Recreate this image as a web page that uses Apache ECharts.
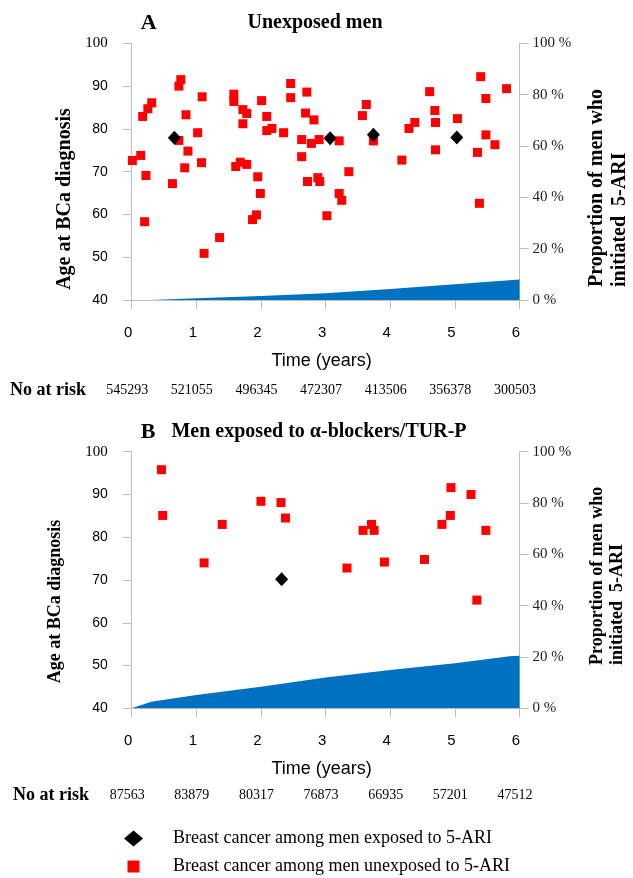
<!DOCTYPE html>
<html>
<head>
<meta charset="utf-8">
<script src="https://cdn.jsdelivr.net/npm/echarts@6/dist/echarts.min.js"></script>
<style>
  html, body { margin: 0; padding: 0; background: #fff; }
  #main { width: 633px; height: 878px; }
</style>
</head>
<body>
<div id="main"></div>
<script>
// x axis ticks and number at risk
var years = [0, 1, 2, 3, 4, 5, 6];
var riskA = ['545293', '521055', '496345', '472307', '413506', '356378', '300503'];
var riskB = ['87563', '83879', '80317', '76873', '66935', '57201', '47512'];

// A: unexposed men
var timeA_unexp = [0.01, 0.14, 0.22, 0.20, 0.17, 0.25, 0.31, 0.63, 0.73, 0.76, 0.73, 0.84, 1.02, 0.87, 0.82,
  1.09, 1.08, 1.12, 1.36, 1.58, 1.58, 1.72, 1.78, 1.72, 1.61, 1.68, 1.78, 1.95, 1.99, 1.93, 1.87,
  2.01, 2.09, 2.09, 2.17, 2.35, 2.46, 2.46, 2.71, 2.69, 2.82, 2.63, 2.78, 2.90, 2.63, 2.72, 2.88, 2.91,
  3.02, 3.21, 3.36, 3.21, 3.25, 3.63, 3.57, 3.74, 4.18, 4.29, 4.38, 4.61, 4.69, 4.70, 4.70,
  5.04, 5.40, 5.48, 5.48, 5.62, 5.35, 5.38, 5.80];
var ageA_unexp = [72.6, 73.8, 69.1, 58.3, 82.9, 84.7, 86.1, 67.2, 90.0, 91.5, 77.3, 83.3, 79.1, 74.8, 70.9,
  87.5, 72.1, 50.9, 54.6, 88.1, 86.4, 84.5, 83.6, 81.2, 71.2, 72.2, 71.7, 68.8, 64.9, 59.9, 58.8,
  86.6, 82.9, 79.6, 80.1, 79.1, 90.6, 87.3, 88.6, 83.7, 82.1, 77.5, 76.6, 77.5, 73.5, 67.7, 68.6, 67.7,
  59.7, 77.2, 70.0, 64.9, 63.3, 85.7, 83.1, 77.2, 72.7, 80.1, 81.5, 88.7, 84.3, 81.5, 75.1,
  82.4, 92.2, 87.1, 78.6, 76.3, 74.5, 62.6, 89.4];
var timeA_exp = [0.66, 3.07, 3.74, 5.03];
var ageA_exp = [77.9, 77.8, 78.6, 78.0];
var areaTimeA = [0, 0.3, 1, 2, 3, 4, 5, 6];
var areaPctA = [0, 0, 0.65, 1.55, 2.6, 4.3, 6.1, 8.0];

// B: men exposed to alpha-blockers/TUR-P
var timeB_unexp = [0.46, 0.48, 1.12, 1.40, 2.00, 2.31, 2.38, 3.33, 3.58, 3.71, 3.75, 3.91, 4.53, 4.80, 4.93, 4.94, 5.25, 5.48, 5.34];
var ageB_unexp = [95.8, 85.1, 74.0, 83.0, 88.4, 88.1, 84.5, 72.8, 81.6, 83.0, 81.6, 74.2, 74.8, 83.0, 85.1, 91.6, 90.0, 81.6, 65.3];
var timeB_exp = [2.32];
var ageB_exp = [70.2];
var areaTimeB = [0, 0.3, 1, 2, 3, 4, 5, 5.85, 6];
var areaPctB = [0, 2.6, 5.2, 8.4, 12.0, 14.9, 17.6, 20.3, 20.5];

var nameExp = 'Breast cancer among men exposed to 5-ARI';
var nameUnexp = 'Breast cancer among men unexposed to 5-ARI';

var SERIF = '"Liberation Serif", "Times New Roman", serif';
var SANS = '"Liberation Sans", Arial, sans-serif';
var GRAY = '#bfbfbf';

function pairs(xs, ys) {
  return xs.map(function (x, i) { return [x, ys[i]]; });
}

var myChart = echarts.init(document.getElementById('main'));

function xAxes(g, risk, riskMargin) {
  return [{
    gridIndex: g, type: 'value', min: 0, max: 6, interval: 1, position: 'bottom',
    axisLine: { show: true, onZero: false, lineStyle: { color: GRAY } },
    axisTick: { show: true, length: 9, lineStyle: { color: GRAY } },
    splitLine: { show: false },
    axisLabel: { margin: 25, color: '#000', fontFamily: SANS, fontSize: 15, padding: [0, 7, 0, 0] },
    name: 'Time (years)', nameLocation: 'middle', nameGap: 52,
    nameTextStyle: { fontFamily: SANS, fontSize: 18, color: '#000', padding: [0, 8, 0, 0] }
  }, {
    gridIndex: g, type: 'value', min: 0, max: 6, interval: 1, position: 'bottom',
    axisLine: { show: false }, axisTick: { show: false }, splitLine: { show: false },
    axisLabel: {
      margin: riskMargin, color: '#000', fontFamily: SERIF, fontSize: 14, padding: [0, 9, 0, 0],
      formatter: function (v) { return risk[years.indexOf(v)]; }
    }
  }];
}

function yAxes(g) {
  return [{
    gridIndex: g, type: 'value', min: 40, max: 100, interval: 10, position: 'left',
    axisLine: { show: true, onZero: false, lineStyle: { color: GRAY } },
    axisTick: { show: true, length: 9, lineStyle: { color: GRAY } },
    splitLine: { show: false },
    axisLabel: {
      margin: 24, color: '#000', fontFamily: SANS, fontSize: 14,
      formatter: function (v) { return v === 100 ? '{s|100}' : String(v); },
      rich: { s: { fontFamily: SERIF, fontSize: 15, color: '#000' } }
    }
  }, {
    gridIndex: g, type: 'value', min: 0, max: 100, interval: 20, position: 'right',
    axisLine: { show: true, onZero: false, lineStyle: { color: GRAY } },
    axisTick: { show: true, length: 9, lineStyle: { color: GRAY } },
    splitLine: { show: false },
    axisLabel: { margin: 13, color: '#222', fontFamily: SERIF, fontSize: 15, formatter: '{value} %' }
  }];
}

function areaSeries(xi, yi, data) {
  return {
    type: 'line', xAxisIndex: xi, yAxisIndex: yi, data: data, symbol: 'none',
    lineStyle: { width: 0 }, areaStyle: { color: '#0070C0', opacity: 1 }, z: 1, silent: true
  };
}
function scatterSeries(name, xi, yi, data, symbol, size, color) {
  return {
    type: 'scatter', name: name, xAxisIndex: xi, yAxisIndex: yi, data: data,
    symbol: symbol, symbolSize: size, itemStyle: { color: color, opacity: 1 }, z: 3
  };
}

function txt(text, x, y, font, align, rot) {
  return {
    type: 'text', x: x, y: y, rotation: rot || 0,
    style: { text: text, font: font, fill: '#000', textAlign: align || 'center', textVerticalAlign: 'middle' }
  };
}

var option = {
  animation: false,
  grid: [
    { left: 131.7, top: 43.3, width: 387.8, height: 256.7, containLabel: false, outerBoundsMode: 'none' },
    { left: 131.7, top: 451.7, width: 387.8, height: 256.6, containLabel: false, outerBoundsMode: 'none' }
  ],
  xAxis: xAxes(0, riskA, 83).concat(xAxes(1, riskB, 80)),
  yAxis: yAxes(0).concat(yAxes(1)),
  legend: {
    orient: 'vertical', left: 119, top: 824.5, height: 80, itemWidth: 19, itemHeight: 16, itemGap: 10,
    selectedMode: false,
    textStyle: { fontFamily: SERIF, fontSize: 18, color: '#000', padding: [0, 0, 0, 25] },
    data: [
      { name: nameExp, icon: 'diamond', itemStyle: { color: '#000' } },
      // square icon kept smaller inside the same 19x16 box
      { name: nameUnexp, icon: 'path://M0,0M19,16M3.5,2L15.5,2L15.5,14L3.5,14Z', itemStyle: { color: '#ff0000' } }
    ]
  },
  series: [
    areaSeries(0, 1, pairs(areaTimeA, areaPctA)),
    scatterSeries(nameUnexp, 0, 0, pairs(timeA_unexp, ageA_unexp), 'rect', 9, '#ff0000'),
    scatterSeries(nameExp, 0, 0, pairs(timeA_exp, ageA_exp), 'diamond', [13, 14], '#000'),
    areaSeries(2, 3, pairs(areaTimeB, areaPctB)),
    scatterSeries(nameUnexp, 2, 2, pairs(timeB_unexp, ageB_unexp), 'rect', 9, '#ff0000'),
    scatterSeries(nameExp, 2, 2, pairs(timeB_exp, ageB_exp), 'diamond', [13, 14], '#000')
  ],
  graphic: [
    txt('A', 148.6, 23, 'bold 22px ' + SERIF),
    txt('Unexposed men', 315, 23, 'bold 20px ' + SERIF),
    txt('B', 148, 432, 'bold 22px ' + SERIF),
    txt('Men exposed to \u03b1-blockers/TUR-P', 319, 432, 'bold 20px ' + SERIF),
    txt('Age at BCa diagnosis', 65, 199, 'bold 20px ' + SERIF, 'center', Math.PI / 2),
    txt('Age at BCa diagnosis', 55, 601.5, 'bold 18px ' + SERIF, 'center', Math.PI / 2),
    txt('Proportion of men who', 597, 287, 'bold 20px ' + SERIF, 'left', Math.PI / 2),
    txt('initiated  5-ARI', 620, 287, 'bold 20px ' + SERIF, 'left', Math.PI / 2),
    txt('Proportion of men who', 597, 665, 'bold 18px ' + SERIF, 'left', Math.PI / 2),
    txt('initiated  5-ARI', 617, 665, 'bold 18px ' + SERIF, 'left', Math.PI / 2),
    txt('No at risk', 10, 390, 'bold 18px ' + SERIF, 'left'),
    txt('No at risk', 13, 795, 'bold 18px ' + SERIF, 'left')
  ]
};

myChart.setOption(option);
</script>
</body>
</html>
